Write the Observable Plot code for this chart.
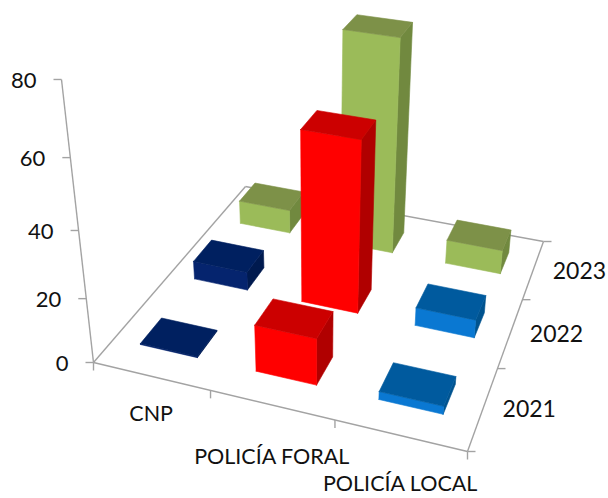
<!DOCTYPE html>
<html><head><meta charset="utf-8">
<script src="https://cdn.jsdelivr.net/npm/d3@7"></script>
<script src="https://cdn.jsdelivr.net/npm/@observablehq/plot@0.6"></script>
<style>html,body{margin:0;padding:0;background:#fff}svg{display:block}</style>
</head><body><div id="chart"></div>
<script>
const categories = ["CNP", "POLICÍA FORAL", "POLICÍA LOCAL"];
const years = ["2021", "2022", "2023"];
const cnp = [0.3, 6, 8];
const foral = [14.5, 54, 69.5];
const local = [2.5, 5.8, 8];
const valueTicks = [0, 20, 40, 60, 80];

const series = [cnp, foral, local];
const palette = {
  navy: ["#05246e", "#002060", "#001a4f"],
  red: ["#ff0000", "#cc0000", "#b00000"],
  blue: ["#0a78d2", "#005a9e", "#00538f"],
  green: ["#9bbb59", "#7d9148", "#71893f"]
};
const colourOf = [["navy", "navy", "green"], ["red", "red", "green"], ["blue", "blue", "green"]];

// Perspective camera: category u and year v on the floor (0–3), value z upward.
const CAM = {a:332.36,b:220.05,c:93,d:48.79,e:-124.33,f:362,g:-0.08916,h:0.27777,kx:-0.496,ky:-3.662,m:-0.001573};
function project(cat, yr, z) {
  const u = cat / 3, v = yr / 3;
  const w = CAM.g * u + CAM.h * v + 1 + CAM.m * z;
  return [(CAM.a * u + CAM.b * v + CAM.c + CAM.kx * z) / w,
          (CAM.d * u + CAM.e * v + CAM.f + CAM.ky * z) / w];
}

const seg = (a, b) => ({x1: a[0], y1: a[1], x2: b[0], y2: b[1]});
const axisLines = [
  seg(project(0,0,0), project(3,0,0)), seg(project(3,0,0), project(3,3,0)),
  seg(project(3,3,0), project(0,3,0)), seg(project(0,3,0), project(0,0,0)),
  seg(project(0,0,0), project(0,0,80))
];
const tickLen = 8;
const ticks = [];
for (const t of valueTicks) { const p = project(0,0,t); ticks.push(seg(p, [p[0]-tickLen, p[1]])); }
for (let i = 0; i <= 3; i++) { const p = project(i,0,0); ticks.push(seg(p, [p[0], p[1]+tickLen])); }
for (let i = 0; i <= 3; i++) { const p = project(3,i,0); ticks.push(seg(p, [p[0]+tickLen, p[1]])); }

// Bar footprint inside a cell
const U0 = 0.235, U1 = 0.735, V0 = 0.33, V1 = 0.70;
const faces = [];
let id = 0;
function addFace(pts, color) {
  id++;
  for (const p of [...pts, pts[0]]) faces.push({id, x: p[0], y: p[1], color});
}
for (let yr = 2; yr >= 0; yr--) {
  for (let cat = 0; cat < 3; cat++) {
    const z = series[cat][yr];
    const [front, top, side] = palette[colourOf[cat][yr]];
    const c = (du, dv, h) => project(cat + du, yr + dv, h);
    addFace([c(U1,V0,0), c(U1,V1,0), c(U1,V1,z), c(U1,V0,z)], side);
    addFace([c(U0,V0,0), c(U1,V0,0), c(U1,V0,z), c(U0,V0,z)], front);
    addFace([c(U0,V0,z), c(U1,V0,z), c(U1,V1,z), c(U0,V1,z)], top);
  }
}

const valueLabels = valueTicks.map(t => { const p = project(0,0,t); return {x: p[0], y: p[1], t: String(t)}; });
const catDy = [38, 52, 49];
const catLabels = categories.map((t, i) => { const p = project(i+0.5,0,0); return {x: p[0], y: p[1] + catDy[i], t}; });
const yearLabels = years.map((t, i) => { const p = project(3,i+0.5,0); return {x: p[0] + 46, y: p[1] + 2, t}; });

const font = "Lato, 'Open Sans', sans-serif";
const labelColor = "#111";
const chart = Plot.plot({
  width: 608, height: 498,
  margin: 0,
  style: {background: "#fff", fontFamily: font},
  x: {domain: [0, 608], range: [0, 608], axis: null},
  y: {domain: [0, 498], range: [0, 498], axis: null},
  marks: [
    Plot.link(axisLines, {x1:"x1", y1:"y1", x2:"x2", y2:"y2", stroke:"#a3a3a3", strokeWidth:1.4}),
    Plot.link(ticks, {x1:"x1", y1:"y1", x2:"x2", y2:"y2", stroke:"#a3a3a3", strokeWidth:1.4}),
    Plot.line(faces, {x:"x", y:"y", z:"id", fill:"color", stroke:"color", strokeWidth:0.6, strokeLinejoin:"round"}),
    Plot.text(valueLabels, {x:"x", y:"y", text:"t", textAnchor:"end", dx:-25, dy:1, fontSize:22, fill:labelColor}),
    Plot.text(catLabels, {x:"x", y:"y", text:"t", fontSize:21.5, fill:labelColor}),
    Plot.text(yearLabels, {x:"x", y:"y", text:"t", fontSize:23, fill:labelColor})
  ]
});
document.getElementById("chart").append(chart);
</script></body></html>
